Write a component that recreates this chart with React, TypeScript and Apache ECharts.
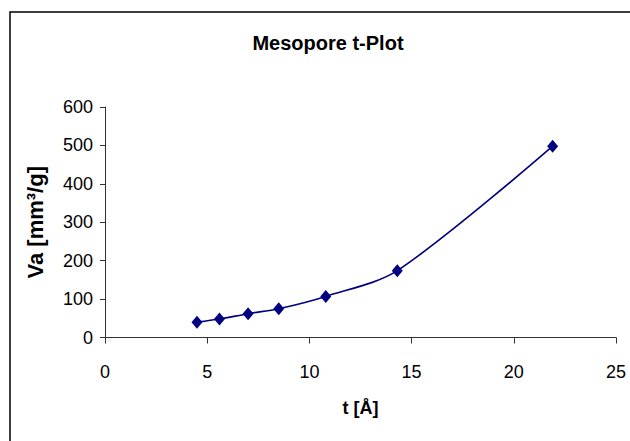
import React, { useEffect, useRef } from "react";
import * as echarts from "echarts";

const tValues = [4.5, 5.6, 7.0, 8.5, 10.8, 14.3, 21.9];
const vaValues = [40, 48, 62, 75, 107, 174, 498];
const titleText = "Mesopore t-Plot";
const xName = "t [Å]";
const yName = "Va [mm³/g]";

export default function App() {
  const ref = useRef<HTMLDivElement>(null);
  useEffect(() => {
    document.body.style.margin = "0";
    const chart = echarts.init(ref.current!, null, { renderer: "svg" });
    const font = "Liberation Sans, Arial, sans-serif";
    chart.setOption({
      animation: false,
      backgroundColor: "#ffffff",
      title: {
        text: titleText,
        left: 328,
        top: 33,
        padding: 0,
        textAlign: "center",
        textStyle: { fontFamily: font, fontSize: 20, fontWeight: "bold", color: "#000" },
      },
      graphic: [
        {
          type: "rect",
          shape: { x: 10, y: 12, width: 700, height: 500 },
          style: { fill: "none", stroke: "#000", lineWidth: 1.5 },
          silent: true,
        },
      ],
      grid: { left: 105, right: 14, top: 107, bottom: 103.5, containLabel: false },
      xAxis: {
        type: "value",
        min: 0,
        max: 25,
        interval: 5,
        name: xName,
        nameLocation: "middle",
        nameGap: 61,
        nameTextStyle: { fontFamily: font, fontSize: 18, fontWeight: "bold", color: "#000" },
        axisLine: { show: true, onZero: false, lineStyle: { color: "#333", width: 1 } },
        axisTick: { show: true, inside: false, length: 6, lineStyle: { color: "#333" } },
        axisLabel: { fontFamily: font, fontSize: 18, color: "#000", margin: 25 },
        splitLine: { show: false },
      },
      yAxis: {
        type: "value",
        min: 0,
        max: 600,
        interval: 100,
        name: yName,
        nameLocation: "middle",
        nameGap: 59,
        nameTextStyle: { fontFamily: font, fontSize: 22, fontWeight: "bold", color: "#000" },
        axisLine: { show: true, lineStyle: { color: "#333", width: 1 } },
        axisTick: { show: true, inside: false, length: 5, lineStyle: { color: "#333" } },
        axisLabel: { fontFamily: font, fontSize: 18, color: "#000", margin: 12 },
        splitLine: { show: false },
      },
      series: [
        {
          type: "line",
          data: tValues.map((t, i) => [t, vaValues[i]]),
          smooth: 0.3,
          symbol: "diamond",
          symbolSize: [11, 13],
          showAllSymbol: true,
          itemStyle: { color: "#000080" },
          lineStyle: { color: "#000080", width: 1.6 },
        },
      ],
    });
    return () => chart.dispose();
  }, []);
  return <div ref={ref} style={{ width: 630, height: 441 }} />;
}
